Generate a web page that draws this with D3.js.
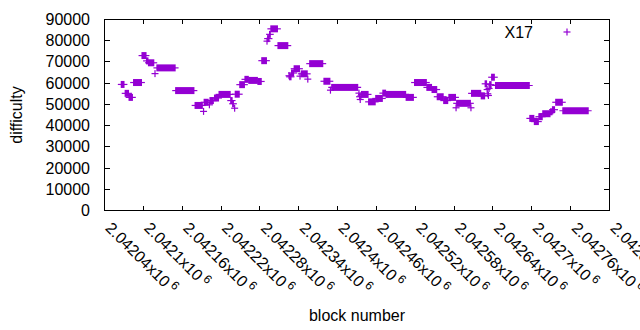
<!DOCTYPE html>
<html>
<head>
<meta charset="utf-8">
<script src="https://cdn.jsdelivr.net/npm/d3@7"></script>
<style>
  body { margin: 0; background: #fff; }
  text { font-family: "Liberation Sans", Arial, sans-serif; font-size: 16px; fill: #000; }
</style>
</head>
<body>
<div id="chart"></div>
<script>
// DATA
// runs of blocks that share the same difficulty (first block, last block, difficulty)
const runStart = [2042066, 2042072, 2042078, 2042085, 2042098, 2042105, 2042108, 2042118, 2042121, 2042150,
                  2042180, 2042193, 2042194, 2042202, 2042203, 2042210, 2042217, 2042235, 2042238, 2042241,
                  2042242, 2042249, 2042257, 2042263, 2042277, 2042283, 2042291, 2042292, 2042295, 2042297,
                  2042308, 2042325, 2042326, 2042329, 2042333, 2042342, 2042344, 2042354, 2042357, 2042379,
                  2042389, 2042391, 2042433, 2042434, 2042435, 2042436, 2042437, 2042448, 2042459, 2042470,
                  2042475, 2042506, 2042519, 2042538, 2042546, 2042554, 2042564, 2042572, 2042583, 2042584,
                  2042606, 2042607, 2042622, 2042628, 2042631, 2042632, 2042633, 2042634, 2042635, 2042638,
                  2042644, 2042697, 2042704, 2042711, 2042717, 2042729, 2042732, 2042737, 2042748];
const runEnd   = [2042070, 2042077, 2042083, 2042097, 2042104, 2042107, 2042116, 2042118, 2042149, 2042178,
                  2042191, 2042193, 2042200, 2042202, 2042208, 2042216, 2042234, 2042237, 2042239, 2042241,
                  2042248, 2042256, 2042262, 2042276, 2042282, 2042290, 2042291, 2042294, 2042296, 2042307,
                  2042323, 2042325, 2042328, 2042332, 2042341, 2042342, 2042353, 2042354, 2042377, 2042388,
                  2042389, 2042431, 2042433, 2042434, 2042435, 2042436, 2042447, 2042458, 2042469, 2042474,
                  2042505, 2042517, 2042537, 2042545, 2042553, 2042563, 2042570, 2042582, 2042583, 2042605,
                  2042606, 2042621, 2042627, 2042630, 2042631, 2042632, 2042633, 2042634, 2042637, 2042642,
                  2042696, 2042703, 2042710, 2042716, 2042728, 2042731, 2042735, 2042747, 2042787];
const runDiff  = [59400, 55200, 53300, 60300, 73000, 70500, 69600, 64500, 67200, 56500,
                  49500, 46700, 51000, 49800, 51800, 53000, 54700, 51800, 50300, 48200,
                  54800, 59300, 61800, 61300, 60800, 70600, 79800, 81000, 83000, 85600,
                  77700, 63500, 63000, 64800, 66800, 63300, 64400, 61900, 69200, 60900,
                  56700, 58000, 55300, 53600, 52300, 54000, 54700, 51200, 52800, 55300,
                  54700, 53300, 60300, 58000, 57000, 53600, 51800, 53300, 48400, 50500,
                  48400, 55200, 54000, 59700, 57000, 55000, 54200, 57500, 59300, 62800,
                  58900, 43400, 41900, 44200, 45600, 46500, 47500, 51000, 47000];

// axis ticks
const xTicks = [2042040, 2042100, 2042160, 2042220, 2042280, 2042340, 2042400,
                2042460, 2042520, 2042580, 2042640, 2042700, 2042760, 2042820];
const yTicks = [0, 10000, 20000, 30000, 40000, 50000, 60000, 70000, 80000, 90000];
const seriesName = 'X17';

//// SETUP
document.addEventListener('DOMContentLoaded', function(){
  drawChart();
});

function drawChart(){
  const W = 640, H = 330;
  const box = { left: 104.5, right: 609.5, top: 19.5, bottom: 210.5 };
  const purple = '#9400d3';
  const pt = 3.5; // half size of the + marker

  const svg = d3.select('#chart')
                .append('svg')
                .attr('width', W)
                .attr('height', H);

  const x = d3.scaleLinear()
              .domain([xTicks[0], xTicks[xTicks.length - 1]])
              .range([box.left, box.right]);
  const y = d3.scaleLinear()
              .domain([0, 90000])
              .range([box.bottom, box.top]);

  // ticks, all pointing inward, mirrored on top/right
  const tickG = svg.append('g').attr('stroke', '#000').attr('stroke-width', 1);
  yTicks.forEach(v => {
    const yy = Math.round(y(v) - 0.5) + 0.5;
    tickG.append('line').attr('x1', box.left).attr('x2', box.left + 5.5).attr('y1', yy).attr('y2', yy);
    tickG.append('line').attr('x1', box.right).attr('x2', box.right - 5.5).attr('y1', yy).attr('y2', yy);
  });
  xTicks.forEach(v => {
    const xx = Math.round(x(v) - 0.5) + 0.5;
    tickG.append('line').attr('x1', xx).attr('x2', xx).attr('y1', box.bottom).attr('y2', box.bottom - 4.5);
    tickG.append('line').attr('x1', xx).attr('x2', xx).attr('y1', box.top).attr('y2', box.top + 4.5);
  });

  // y tick labels
  svg.append('g').selectAll('text')
     .data(yTicks).enter()
     .append('text')
       .attr('x', 90)
       .attr('y', d => y(d) + 5.5)
       .attr('text-anchor', 'end')
       .text(d => d);

  // x tick labels, rotated, like 2.04204x10^6
  const xl = svg.append('g').selectAll('text')
     .data(xTicks).enter()
     .append('text')
       .attr('transform', d => 'translate(' + x(d) + ',229) rotate(45)')
       .attr('text-anchor', 'start');
  xl.append('tspan').text(d => (+(d / 1e6).toFixed(5)) + 'x10');
  xl.append('tspan').attr('dx', 3).attr('dy', -6).style('font-size', '12px').text('6');

  // border
  svg.append('rect')
     .attr('x', box.left).attr('y', box.top)
     .attr('width', box.right - box.left).attr('height', box.bottom - box.top)
     .attr('fill', 'none').attr('stroke', '#000').attr('stroke-width', 1);

  // points: every run of + markers merges into a solid block with arms
  const runs = runStart.map((s, i) => ({ s: s, e: runEnd[i], d: runDiff[i] }));
  const ptG = svg.append('g');
  ptG.selectAll('.run-body')
     .data(runs).enter()
     .append('rect')
       .attr('x', d => x(d.s) - 0.6)
       .attr('width', d => x(d.e) - x(d.s) + 1.2)
       .attr('y', d => y(d.d) - pt)
       .attr('height', pt * 2)
       .attr('fill', purple);
  ptG.selectAll('.run-arm')
     .data(runs).enter()
     .append('line')
       .attr('x1', d => x(d.s) - pt)
       .attr('x2', d => x(d.e) + pt)
       .attr('y1', d => y(d.d))
       .attr('y2', d => y(d.d))
       .attr('stroke', purple)
       .attr('stroke-width', 1.2);

  // legend
  svg.append('text')
     .attr('x', 533).attr('y', 37.5)
     .attr('text-anchor', 'end')
     .text(seriesName);
  const lg = svg.append('g').attr('stroke', purple).attr('stroke-width', 1.2);
  lg.append('line').attr('x1', 567 - pt).attr('x2', 567 + pt).attr('y1', 32).attr('y2', 32);
  lg.append('line').attr('x1', 567).attr('x2', 567).attr('y1', 32 - pt).attr('y2', 32 + pt);

  // axis titles
  svg.append('text')
     .attr('transform', 'translate(22,' + (box.top + box.bottom) / 2 + ') rotate(-90)')
     .attr('text-anchor', 'middle')
     .text('difficulty');
  svg.append('text')
     .attr('x', (box.left + box.right) / 2)
     .attr('y', 321)
     .attr('text-anchor', 'middle')
     .text('block number');
}
</script>
</body>
</html>
